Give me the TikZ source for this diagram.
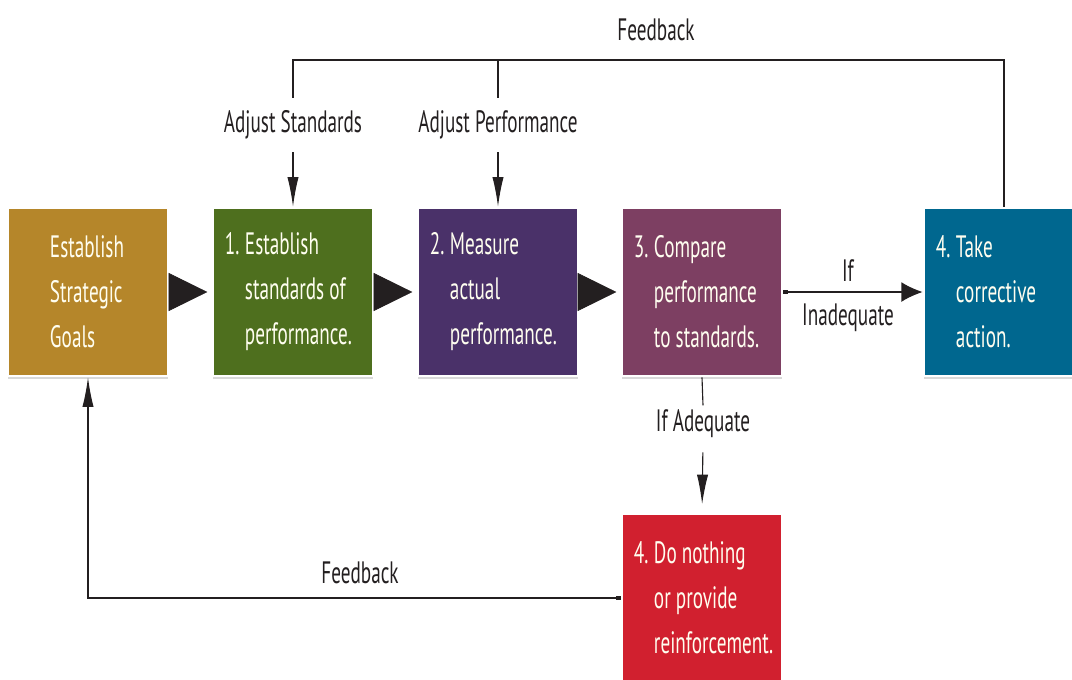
\documentclass[tikz,border=0pt]{standalone}
\usepackage{fontspec}
\setmainfont{PT Sans}[FakeStretch=0.62]
\usetikzlibrary{arrows.meta,shadows}
\definecolor{sGold}{HTML}{B5862A}
\definecolor{sGreen}{HTML}{4E6F1E}
\definecolor{sPurple}{HTML}{4A3169}
\definecolor{sMauve}{HTML}{7D3F62}
\definecolor{sBlue}{HTML}{00678F}
\definecolor{sRed}{HTML}{D1202F}
\definecolor{sInk}{HTML}{231F20}
\newcommand{\boxfont}{\fontsize{22}{32}\selectfont\hyphenpenalty=10000}
\newcommand{\lblfont}{\fontsize{22}{26}\selectfont}
\newcommand{\stepno}[1]{\makebox[0.5cm][l]{#1}}
\newcommand{\steppad}{\hspace*{0.5cm}}

\begin{document}
\begin{tikzpicture}[x=0.025cm,y=-0.025cm,>={Latex[length=21pt,width=8pt]}]
		\tikzstyle{BOX} = [draw=white, line width=2pt, minimum width=4cm, minimum height=4.2cm, inner xsep=0.3cm, text width=3.4cm, align=flush left, text=white!94!yellow, font=\boxfont, drop shadow={shadow xshift=0pt, shadow yshift=-2pt, opacity=0.3}]
		\tikzstyle{goal} = [BOX, fill=sGold, inner xsep=1.05cm, text width=1.9cm]
		\tikzstyle{std} = [BOX, fill=sGreen]
		\tikzstyle{meas} = [BOX, fill=sPurple]
		\tikzstyle{cmp} = [BOX, fill=sMauve]
		\tikzstyle{act} = [BOX, fill=sBlue]
		\tikzstyle{none} = [BOX, fill=sRed]
		\tikzstyle{lbl} = [text=sInk, font=\lblfont, inner xsep=2pt, inner ysep=9pt]
		\tikzstyle{big} = [-{Triangle[length=27.5pt,width=27pt]}, sInk, shorten >=3pt]
		\tikzstyle{fb} = [line width=0.8pt, sInk]

		\useasboundingbox (0,0) rectangle (1072,679);

		\node[goal] (gOne) at		(88, 292) {Establish\\Strategic\\Goals};
		\node[std] (sOne) at		(293, 292) {\stepno{1.}Establish\\\steppad standards of\\\steppad performance.};
		\node[meas] (mOne) at		(498, 292) {\stepno{2.}Measure\\\steppad actual\\\steppad performance.};
		\node[cmp] (cOne) at		(702, 292) {\stepno{3.}Compare\\\steppad performance\\\steppad to standards.};
		\node[act] (aOne) at		(1004, 292) {\stepno{4.}Take\\\steppad corrective\\\steppad action.};
		\node[none] (nOne) at		(702, 598) {\stepno{4.}Do nothing\\\steppad or provide\\\steppad reinforcement.};

		\node[lbl] (fTop) at		(656, 30) {Feedback};
		\node[lbl] (adjS) at		(293, 125) {Adjust Standards};
		\node[lbl] (adjP) at		(498, 125) {Adjust Performance};
		\node[lbl] (ifTx) at		(848, 271) {If};
		\node[lbl] (inad) at		(848, 318) {Inadequate};
		\node[lbl, inner ysep=3pt] (adeq) at		(703, 424) {If Adequate};
		\node[lbl] (fLow) at		(360, 573) {Feedback};
		\coordinate (fbL) at		(293, 60);

		\draw[big] (gOne) -- (sOne);
		\draw[big] (sOne) -- (mOne);
		\draw[big] (mOne) -- (cOne);
		\draw[fb, {Square[length=3pt,width=3pt]}-{Latex[length=15pt,width=14pt]}] (cOne.east) -- (aOne.west);
		\draw[fb] (cOne.south) -- (adeq.north);
		\draw[fb, ->, shorten >=6pt, shorten <=7pt] (adeq.south) -- (nOne.north);
		\draw[fb] (aOne.north) |- (fbL) -- (adjS.north);
		\draw[fb] (adjP.north) -- (adjP.north |- fbL);
		\draw[fb, ->] (adjS.south) -- (sOne.north);
		\draw[fb, ->] (adjP.south) -- (mOne.north);
		\draw[fb, {Square[length=3pt,width=3pt]}->] (nOne.west) -| (gOne.south);
\end{tikzpicture}
\end{document}
